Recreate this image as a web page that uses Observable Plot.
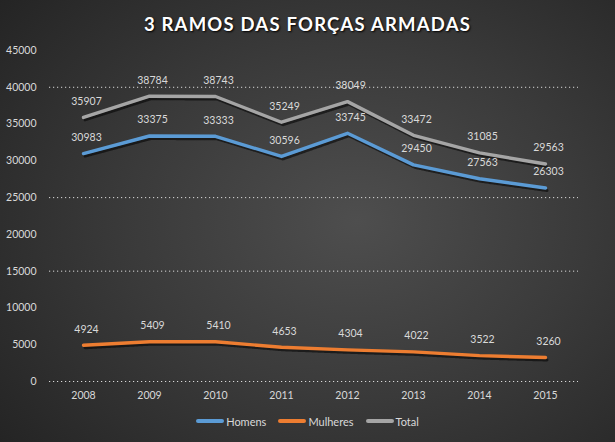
<!DOCTYPE html>
<html><head><meta charset="utf-8">
<script src="https://cdn.jsdelivr.net/npm/d3@7"></script>
<script src="https://cdn.jsdelivr.net/npm/@observablehq/plot@0.6"></script>
<style>
html,body{margin:0;padding:0;}
#wrap{width:615px;height:442px;position:relative;overflow:hidden;
 background:radial-gradient(ellipse 75% 80% at 58% 50%, #4e4e4e 0%, #3a3a3a 50%, #242424 100%);
 font-family:Lato,"Open Sans",sans-serif;}
#title{height:40px;line-height:48px;text-align:center;color:#fff;font-weight:bold;font-size:18.5px;letter-spacing:1.2px;
 text-shadow:1px 1px 2px #000;}
#legend{position:absolute;left:0;top:410px;width:615px;height:22px;display:flex;justify-content:center;align-items:center;gap:12px;color:#d9d9d9;font-size:11px;}
#legend .it{display:flex;align-items:center;}
#legend .sw{width:28px;height:4px;border-radius:2px;margin-right:2px;}
svg{display:block;}
</style></head>
<body><div id="wrap"><div id="title">3 RAMOS DAS FORÇAS ARMADAS</div><div id="chart"></div><div id="legend"></div></div>
<script>
const years = [2008, 2009, 2010, 2011, 2012, 2013, 2014, 2015];
const homens = [30983, 33375, 33333, 30596, 33745, 29450, 27563, 26303];
const mulheres = [4924, 5409, 5410, 4653, 4304, 4022, 3522, 3260];
const total = [35907, 38784, 38743, 35249, 38049, 33472, 31085, 29563];
const yTicks = [0, 5000, 10000, 15000, 20000, 25000, 30000, 35000, 40000, 45000];
const gridTicks = [0, 15000, 25000, 40000];
const seriesNames = ["Homens", "Mulheres", "Total"];
const seriesValues = [homens, mulheres, total];
const colors = ["#5b9bd5", "#ed7d31", "#a5a5a5"];

const data = [];
seriesNames.forEach((s, i) => years.forEach((y, j) => data.push({series: s, year: String(y), value: seriesValues[i][j]})));
const order = ["Mulheres", "Homens", "Total"];

const plot = Plot.plot({
  width: 615, height: 368,
  marginLeft: 49, marginRight: 37, marginTop: 10, marginBottom: 27,
  style: {background: "transparent", color: "#d9d9d9", fontFamily: "Lato, 'Open Sans', sans-serif", fontSize: "10.5px"},
  x: {type: "point", domain: years.map(String), padding: 0.5, label: null},
  y: {domain: [0, 45000], label: null},
  color: {domain: seriesNames, range: colors},
  marks: [
    Plot.ruleY(gridTicks, {stroke: "#d9d9d9", strokeWidth: 1, strokeDasharray: "1.2,2.8"}),
    Plot.axisY({ticks: yTicks, tickSize: 0, tickPadding: 13, tickFormat: d => String(d), fill: "#d9d9d9", fontSize: 10.5}),
    Plot.axisX({tickSize: 0, tickPadding: 10, fill: "#d9d9d9", fontSize: 10.5}),
    ...order.map(s => Plot.line(data.filter(d => d.series === s), {x: "year", y: "value", stroke: "#000", strokeOpacity: 0.55, strokeWidth: 3, dx: 1.5, dy: 2.5, strokeDasharray: "1.5,1"})),
    ...order.map(s => Plot.line(data.filter(d => d.series === s), {x: "year", y: "value", stroke: "series", strokeWidth: 3.4, strokeLinejoin: "round"})),
    Plot.text(data, {x: "year", y: "value", text: d => String(d.value), dy: -16, dx: 3, fill: "#d9d9d9", fontSize: 10.5})
  ]
});
document.getElementById("chart").appendChild(plot);

const leg = document.getElementById("legend");
seriesNames.forEach((s, i) => {
  const it = document.createElement("div"); it.className = "it";
  const sw = document.createElement("div"); sw.className = "sw"; sw.style.background = colors[i];
  const t = document.createElement("span"); t.textContent = s;
  it.appendChild(sw); it.appendChild(t); leg.appendChild(it);
});
</script></body></html>
